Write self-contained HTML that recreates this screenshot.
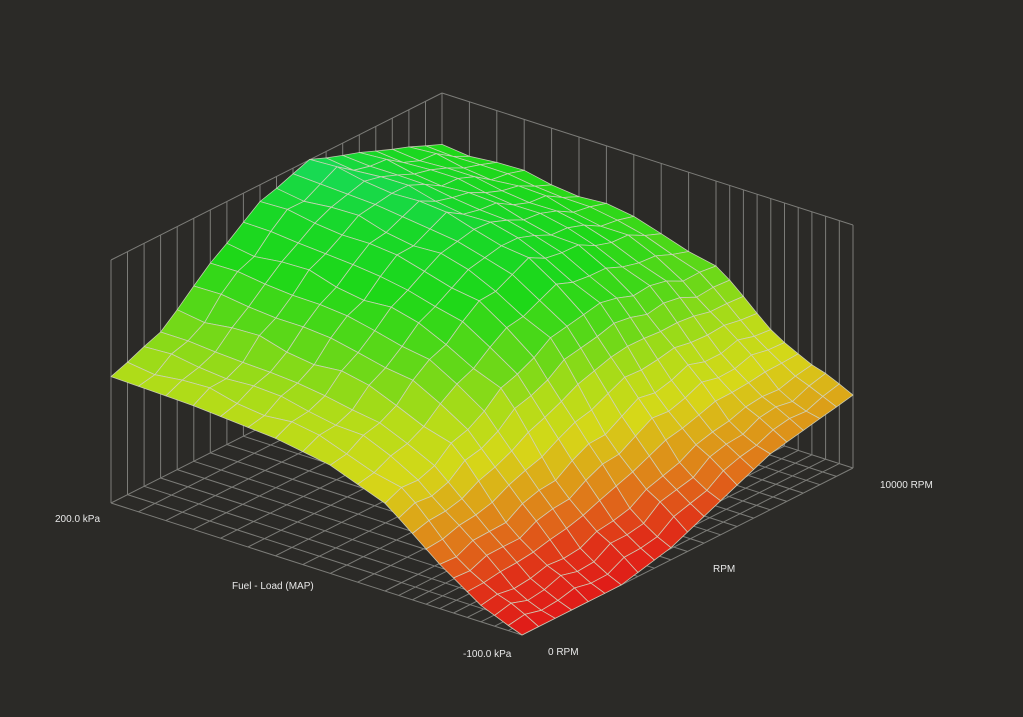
<!DOCTYPE html>
<html><head><meta charset="utf-8"><style>
html,body{margin:0;padding:0;background:#2b2a27;}
svg{display:block}
text{font-family:"Liberation Sans",sans-serif;font-size:10px;fill:#e8e8e8}
</style></head><body>
<svg id="s" width="1023" height="717" viewBox="0 0 1023 717" xmlns="http://www.w3.org/2000/svg">
<rect width="1023" height="717" fill="#2b2a27"/>
<g id="grid" stroke="#7c7c78" stroke-width="1" fill="none"></g>
<g id="surf" stroke="#cfd2bd" stroke-width="0.8" stroke-opacity="0.9" stroke-linejoin="round"></g>
<text x="55" y="522">200.0 kPa</text>
<text x="232" y="589">Fuel - Load (MAP)</text>
<text x="463" y="657">-100.0 kPa</text>
<text x="548" y="655">0 RPM</text>
<text x="713" y="572">RPM</text>
<text x="880" y="488">10000 RPM</text>
</svg>
<script>
var O=[522,635],R=[331,-167],K=[-411,-132],V=[0,-243];
function P(r,k,z){return [O[0]+r*R[0]+k*K[0]+z*V[0],O[1]+r*R[1]+k*K[1]+z*V[1]];}
var rs=[],ks=[];
for(var i=0;i<=20;i++)rs.push(i/20);
for(i=0;i<=10;i++)ks.push(i/30);
for(i=1;i<=10;i++)ks.push(1/3+i/15);
function interp(tab,x){for(var i=0;i<tab.length-1;i++){if(x<=tab[i+1][0]){var t=(x-tab[i][0])/(tab[i+1][0]-tab[i][0]);return tab[i][1]+t*(tab[i+1][1]-tab[i][1]);}}return tab[tab.length-1][1];}
var R1=[[0,.52],[.15,.6],[.3,.78],[.45,.93],[.6,1.0],[.8,.9],[1,.79]];
var R0=[[0,0],[.3,0],[.45,.05],[.6,.14],[.75,.23],[1,.3]];
var S=[[0,0],[.033,.04],[.1,.13],[.2,.35],[.33,.69],[.47,.86],[.6,.93],[.8,.98],[1,1]];
function Z(r,k){var a=interp(R0,r),b=interp(R1,r),s=interp(S,k);
 var z=a+(b-a)*s; z+=0.015*Math.sin(r*40)*Math.sin(k*25)*(k>0.02?1:0); return Math.max(0,Math.min(1.02,z));}
var C=[[0,[224,26,24]],[.1,[224,50,24]],[.2,[224,110,26]],[.3,[220,165,24]],[.4,[214,216,24]],[.52,[180,220,24]],[.65,[100,216,24]],[.8,[30,216,24]],[.92,[24,216,40]],[1,[24,218,88]]];
function col(z){for(var i=0;i<C.length-1;i++){if(z<=C[i+1][0]){var t=(z-C[i][0])/(C[i+1][0]-C[i][0]);var c=C[i][1],d=C[i+1][1];return 'rgb('+[0,1,2].map(function(j){return Math.round(c[j]+t*(d[j]-c[j]));}).join(',')+')';}}var c=C[C.length-1][1];return 'rgb('+c.join(',')+')';}
var g=document.getElementById('grid'),h='';
function L(a,b){h+='<line x1="'+a[0].toFixed(1)+'" y1="'+a[1].toFixed(1)+'" x2="'+b[0].toFixed(1)+'" y2="'+b[1].toFixed(1)+'"/>';}
rs.forEach(function(r){L(P(r,0,0),P(r,1,0));L(P(r,1,0),P(r,1,1));});
ks.forEach(function(k){L(P(0,k,0),P(1,k,0));L(P(1,k,0),P(1,k,1));});
L(P(0,1,1),P(1,1,1));L(P(1,1,1),P(1,0,1));L(P(0,1,0),P(0,1,1));L(P(1,0,0),P(1,0,1));
g.innerHTML=h;
var q=[];
for(var a=0;a<rs.length-1;a++)for(var b=0;b<ks.length-1;b++){
 var r0=rs[a],r1=rs[a+1],k0=ks[b],k1=ks[b+1];
 var pts=[[r0,k0],[r1,k0],[r1,k1],[r0,k1]];var zs=pts.map(function(p){return Z(p[0],p[1]);});
 var sp=pts.map(function(p,i){return P(p[0],p[1],zs[i]);});
 var fy=P((r0+r1)/2,(k0+k1)/2,0)[1];
 var zm=(zs[0]+zs[1]+zs[2]+zs[3])/4;
 q.push({d:fy,s:sp,c:col(zm)});}
q.sort(function(x,y){return x.d-y.d;});
var sh='';
q.forEach(function(o){sh+='<polygon points="'+o.s.map(function(p){return p[0].toFixed(1)+','+p[1].toFixed(1);}).join(' ')+'" fill="'+o.c+'"/>';});
document.getElementById('surf').innerHTML=sh;
</script>
</body></html>
